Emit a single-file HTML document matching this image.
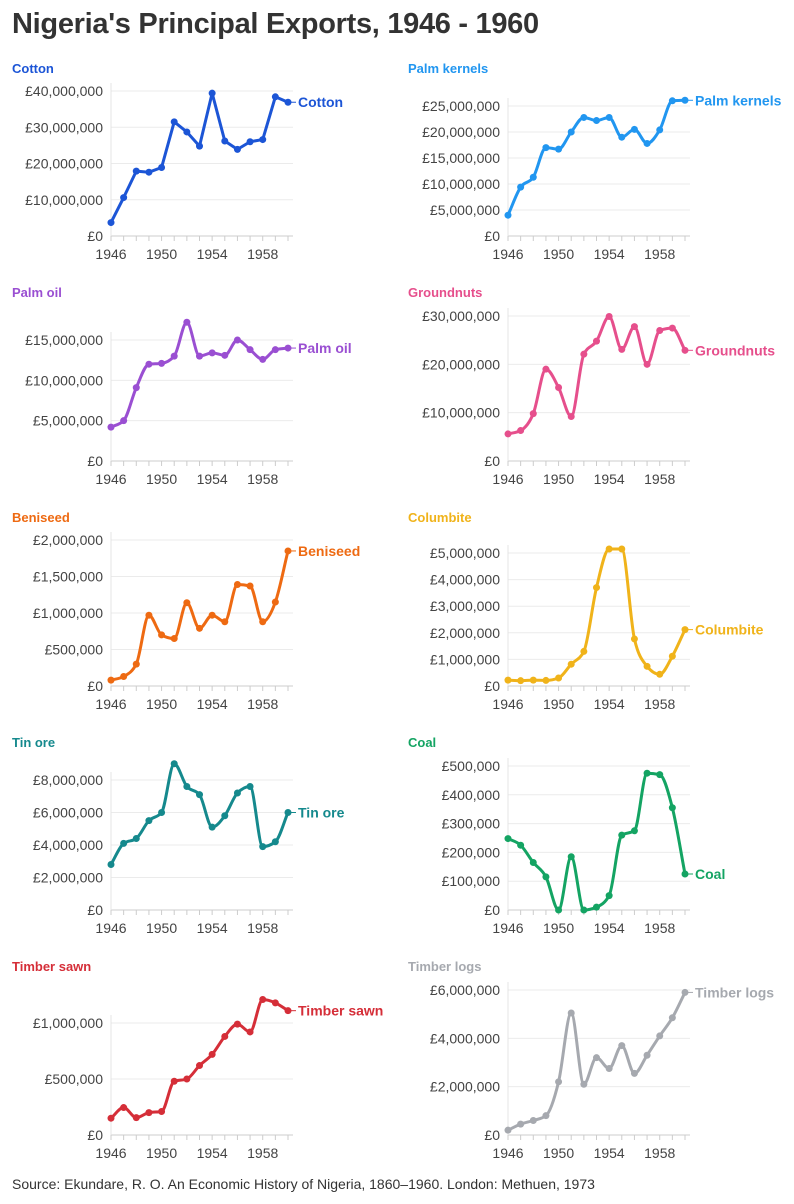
<!DOCTYPE html>
<html><head><meta charset="utf-8">
<style>
body{margin:0;background:#fff;font-family:"Liberation Sans",sans-serif;}
#wrap{position:relative;width:794px;height:1204px;overflow:hidden}
h1{position:absolute;left:12px;top:8px;margin:0;font-size:29px;font-weight:bold;color:#333;letter-spacing:-0.3px}
.src{position:absolute;left:12px;top:1176px;font-size:14px;color:#333}
svg{position:absolute;left:0;top:0}
</style></head><body>
<div id="wrap">
<h1>Nigeria's Principal Exports, 1946 - 1960</h1>
<svg id="c" width="794" height="1204"></svg>
<div class="src">Source: Ekundare, R. O. An Economic History of Nigeria, 1860–1960. London: Methuen, 1973</div>
</div>
<script>
const years=[1946,1947,1948,1949,1950,1951,1952,1953,1954,1955,1956,1957,1958,1959,1960];
const yearTicks=[1946,1950,1954,1958];
const names=["Cotton","Palm kernels","Palm oil","Groundnuts","Beniseed","Columbite","Tin ore","Coal","Timber sawn","Timber logs"];
const colors=["#1c55d6","#2196f0","#9a4fd2","#e64f8c","#ee6a12","#f0b31a","#15898d","#14a463","#d52e38","#a6a9af"];
const cotton=[3.7,10.6,17.9,17.6,18.9,31.5,28.7,24.8,39.4,26.2,23.9,26.0,26.6,38.4,36.9].map(v=>v*1e6);
const palmKernels=[4.0,9.4,11.3,17.0,16.7,20.0,22.8,22.2,22.8,19.0,20.5,17.8,20.4,26.0,26.1].map(v=>v*1e6);
const palmOil=[4.2,5.0,9.1,12.0,12.1,13.0,17.2,13.0,13.4,13.1,15.0,13.8,12.6,13.8,14.0].map(v=>v*1e6);
const groundnuts=[5.6,6.3,9.8,19.0,15.2,9.2,22.1,24.8,29.9,23.1,27.8,20.0,27.0,27.5,22.9].map(v=>v*1e6);
const beniseed=[80,130,300,970,700,650,1140,790,970,880,1390,1370,880,1150,1850].map(v=>v*1e3);
const columbite=[0.22,0.2,0.22,0.21,0.3,0.82,1.3,3.7,5.15,5.15,1.77,0.74,0.44,1.12,2.12].map(v=>v*1e6);
const tinOre=[2.8,4.1,4.4,5.5,6.0,9.0,7.6,7.1,5.1,5.8,7.2,7.6,3.9,4.2,6.0].map(v=>v*1e6);
const coal=[248,225,165,115,0,185,0,10,50,260,275,475,470,355,125].map(v=>v*1e3);
const timberSawn=[150,245,155,200,210,480,500,620,720,880,990,920,1210,1180,1110].map(v=>v*1e3);
const timberLogs=[0.2,0.45,0.6,0.8,2.2,5.05,2.1,3.2,2.75,3.7,2.55,3.3,4.1,4.85,5.9].map(v=>v*1e6);
const series=[cotton,palmKernels,palmOil,groundnuts,beniseed,columbite,tinOre,coal,timberSawn,timberLogs];
const tickSteps=[10e6,5e6,5e6,10e6,5e5,1e6,2e6,1e5,5e5,2e6];
const tickMax=[40e6,25e6,15e6,30e6,2e6,5e6,8e6,5e5,1e6,6e6];
const rows=[[236,68],[461,292],[686,517],[910,742],[1135,966]];
const topY=[[91,106],[340,316],[540,553],[780,766],[1023,990]];
const svg=document.getElementById('c');
const NS="http://www.w3.org/2000/svg";
function mk(t,a,p){const e=document.createElementNS(NS,t);for(const k in a)e.setAttribute(k,a[k]);(p||svg).appendChild(e);return e;}
function fmt(v){return "£"+Math.round(v).toLocaleString("en-US");}
function linear(pts){return "M"+pts.map(p=>p[0]+","+p[1]).join("L");}
function monotone(pts){
  const n=pts.length,dx=[],s=[],m=[];
  for(let i=0;i<n-1;i++){dx[i]=pts[i+1][0]-pts[i][0];s[i]=(pts[i+1][1]-pts[i][1])/dx[i];}
  for(let i=0;i<n;i++){
    if(i==0)m[i]=s[0];else if(i==n-1)m[i]=s[n-2];
    else{ if(s[i-1]*s[i]<=0)m[i]=0; else{const h0=dx[i-1],h1=dx[i];m[i]=(Math.sign(s[i-1])+Math.sign(s[i]))*Math.min(Math.abs(s[i-1]),Math.abs(s[i]),0.5*Math.abs((s[i-1]*h1+s[i]*h0)/(h0+h1)));}}
  }
  let d="M"+pts[0][0]+","+pts[0][1];
  for(let i=0;i<n-1;i++){const h=dx[i]/3;d+="C"+(pts[i][0]+h)+","+(pts[i][1]+m[i]*h)+" "+(pts[i+1][0]-h)+","+(pts[i+1][1]-m[i+1]*h)+" "+pts[i+1][0]+","+pts[i+1][1];}
  return d;
}
series.forEach((data,i)=>{
  const row=Math.floor(i/2),col=i%2;
  const x0=col?508:111,x1=col?685:288;
  const zeroY=rows[row][0],titleY=rows[row][1],tY=topY[row][col];
  const xs=y=>x0+(y-1946)*(x1-x0)/14;
  const ys=v=>zeroY-v*(zeroY-tY)/tickMax[i];
  const g=mk('g',{});
  
  
  const t=mk('text',{x:col?408:12,y:titleY+5,'font-size':13,'font-weight':'bold',fill:colors[i]},g);t.textContent=names[i];
  
  for(let v=0;v<=tickMax[i]+1;v+=tickSteps[i]){
    const y=ys(v);
    const gl=mk('line',{x1:x0,x2:x1+5,y1:y,y2:y,stroke:v==0?'#ccc':'#ebebeb','stroke-width':1},g);
    
    const tl=mk('text',{x:x0-8,y:y+5,'text-anchor':'end','font-size':14,fill:'#444'},g);tl.textContent=fmt(v);
    
  }
  const ax=mk('line',{x1:x0,x2:x0,y1:tY-8,y2:zeroY,stroke:'#e4e4e4'},g);
  
  years.forEach(y=>{const tk=mk('line',{x1:xs(y),x2:xs(y),y1:zeroY,y2:zeroY+5,stroke:'#ccc'},g);
    });
  yearTicks.forEach(y=>{const xl=mk('text',{x:xs(y),y:zeroY+23,'text-anchor':'middle','font-size':14,fill:'#444'},g);xl.textContent=y;
    });
  const pts=data.map((v,k)=>[xs(years[k]),ys(v)]);
  const ln=mk('path',{d:i==0?linear(pts):monotone(pts),fill:'none',stroke:colors[i],'stroke-width':3,'stroke-linejoin':'round'},g);
  
  pts.forEach(p=>{const c=mk('circle',{cx:p[0],cy:p[1],r:3.5,fill:colors[i]},g);
    });
  const last=pts[pts.length-1];
  const ll=mk('line',{x1:last[0],x2:last[0]+8,y1:last[1],y2:last[1],stroke:colors[i],'stroke-width':1},g);
  
  const lab=mk('text',{x:last[0]+10,y:last[1]+5,'font-size':14,'font-weight':'bold',fill:colors[i]},g);lab.textContent=names[i];
  
});
</script>
</body></html>
